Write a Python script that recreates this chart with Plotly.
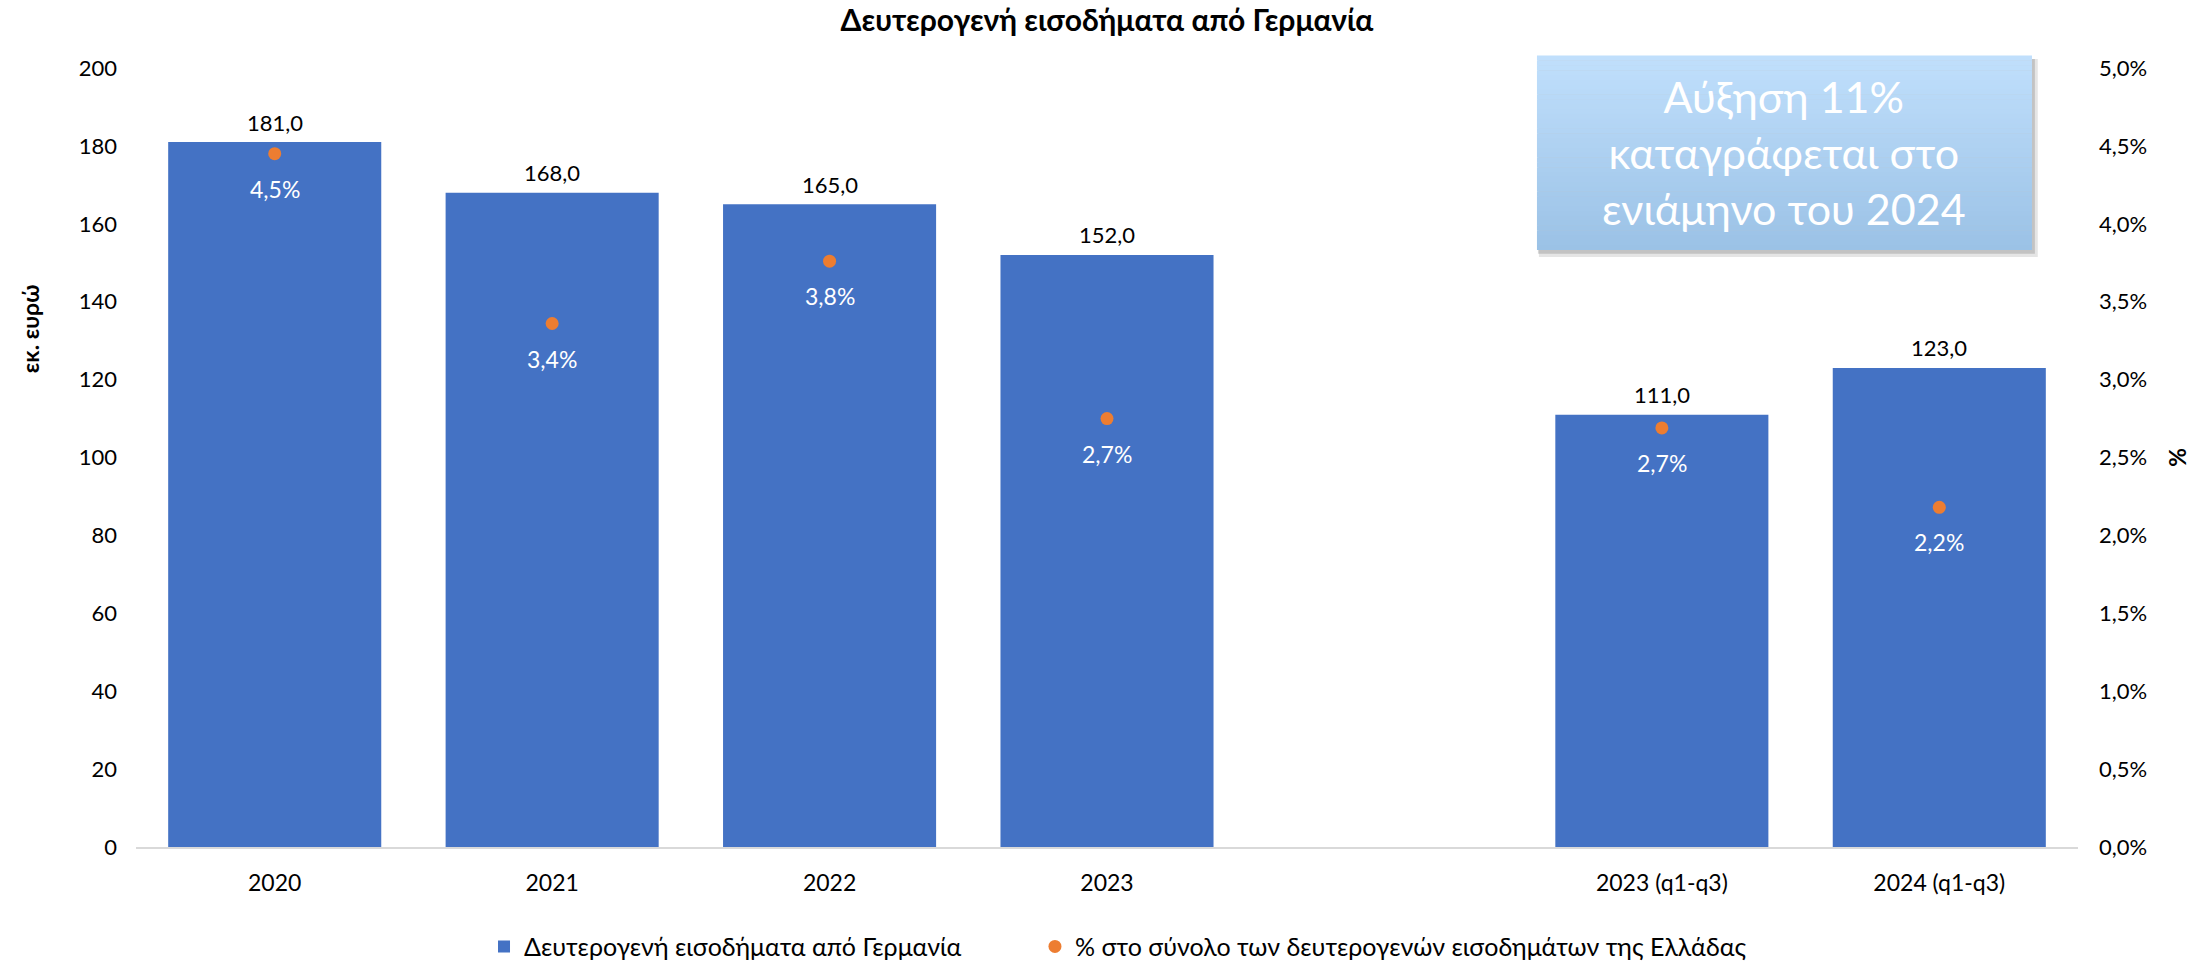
import plotly.graph_objects as go

categories = ["2020", "2021", "2022", "2023", " ", "2023 (q1-q3)", "2024 (q1-q3)"]
income = [181.0, 168.0, 165.0, 152.0, None, 111.0, 123.0]
share_pct = [4.45, 3.36, 3.76, 2.75, None, 2.69, 2.18]
share_labels = ["4,5%", "3,4%", "3,8%", "2,7%", "", "2,7%", "2,2%"]
income_labels = ["181,0", "168,0", "165,0", "152,0", "", "111,0", "123,0"]
left_ticks = list(range(0, 201, 20))
right_ticks = [i * 0.5 for i in range(11)]
right_ticktext = [("%.1f" % v).replace(".", ",") + "%" for v in right_ticks]

BLUE = "#4472C4"
ORANGE = "#ED7D31"
FONT = "Lato, Carlito, Calibri, sans-serif"

fig = go.Figure()
fig.add_trace(go.Bar(
    x=categories, y=income, name="Δευτερογενή εισοδήματα από Γερμανία",
    marker=dict(color=BLUE, line=dict(width=0)), legend="legend",
))
fig.add_trace(go.Scatter(
    x=categories, y=share_pct, name="% στο σύνολο των δευτερογενών εισοδημάτων της Ελλάδας",
    mode="markers", yaxis="y2", legend="legend2",
    marker=dict(color=ORANGE, size=13),
))

# data labels (x given as category index on the category axis)
for i, (v, t) in enumerate(zip(income, income_labels)):
    if v is None:
        continue
    fig.add_annotation(x=i, y=v, xref="x", yref="y", text=t, showarrow=False,
                       yanchor="middle", yshift=20,
                       font=dict(family=FONT, size=22, color="#000000"))
for i, (v, t) in enumerate(zip(share_pct, share_labels)):
    if v is None:
        continue
    fig.add_annotation(x=i, y=v, xref="x", yref="y2", text=t, showarrow=False,
                       yanchor="middle", yshift=-35,
                       font=dict(family=FONT, size=23, color="#FFFFFF"))

# annotation box with vertical gradient (styling strips)
x0, x1, y0, y1 = 0.7214, 0.9763, 0.7664, 1.0154
n = 40
top = (192, 223, 252)
bot = (155, 194, 230)
fig.add_shape(type="rect", xref="paper", yref="paper", x0=x0 + 0.001, x1=x1 + 0.003,
              y0=y0 - 0.009, y1=y1 - 0.004, fillcolor="rgba(0,0,0,0.10)", line=dict(width=0), layer="above")
fig.add_shape(type="rect", xref="paper", yref="paper", x0=x0 + 0.0005, x1=x1 + 0.0015,
              y0=y0 - 0.005, y1=y1 - 0.004, fillcolor="rgba(0,0,0,0.15)", line=dict(width=0), layer="above")
for k in range(n):
    t = k / (n - 1)
    c = tuple(round(top[j] + (bot[j] - top[j]) * t) for j in range(3))
    ya = y1 - (y1 - y0) * k / n
    yb = y1 - (y1 - y0) * (k + 1) / n
    fig.add_shape(type="rect", xref="paper", yref="paper", x0=x0, x1=x1, y0=yb, y1=ya + 0.0005,
                  fillcolor="rgb(%d,%d,%d)" % c, line=dict(width=0), layer="above")
fig.add_annotation(xref="paper", yref="paper", x=(x0 + x1) / 2, y=(y0 + y1) / 2,
                   text="Αύξηση 11%<br>καταγράφεται στο<br>ενιάμηνο του 2024",
                   showarrow=False, font=dict(family=FONT, size=43, color="#FFFFFF"),
                   xanchor="center", yanchor="middle")

# axis titles
fig.add_annotation(xref="paper", yref="paper", x=-0.0546, y=0.666, text="<b>εκ. ευρώ</b>",
                   textangle=-90, showarrow=False, xanchor="center", yanchor="middle",
                   font=dict(family=FONT, size=23, color="#000000"))
fig.add_annotation(xref="paper", yref="paper", x=1.0515, y=0.5006, text="<b>%</b>",
                   textangle=90, showarrow=False, xanchor="center", yanchor="middle",
                   font=dict(family=FONT, size=23, color="#000000"))

legend_common = dict(orientation="h", y=-0.128, yanchor="middle",
                     font=dict(family=FONT, size=25, color="#000000"), itemwidth=30,
                     bgcolor="rgba(0,0,0,0)")

fig.update_layout(
    width=2211, height=962,
    paper_bgcolor="white", plot_bgcolor="white",
    margin=dict(l=136, r=133, t=68, b=115, autoexpand=False),
    bargap=0.232,
    title=dict(text="<b>Δευτερογενή εισοδήματα από Γερμανία</b>", x=0.5, xanchor="center",
               xref="paper", y=0.979, yanchor="middle", automargin=False,
               font=dict(family=FONT, size=30, color="#000000")),
    xaxis=dict(type="category", categoryorder="array", categoryarray=categories,
               range=[-0.5, len(categories) - 0.5],
               showline=True, linecolor="#D9D9D9", linewidth=2, ticks="", automargin=False,
               tickfont=dict(family=FONT, size=23, color="#000000"), showgrid=False,
               ticklabelstandoff=14),
    yaxis=dict(range=[0, 200], tickvals=left_ticks, showgrid=False, zeroline=False, automargin=False,
               tickfont=dict(family=FONT, size=22, color="#000000"), ticklabelstandoff=18),
    yaxis2=dict(range=[0, 5], tickvals=right_ticks, ticktext=right_ticktext,
                overlaying="y", side="right", showgrid=False, zeroline=False, automargin=False,
                tickfont=dict(family=FONT, size=22, color="#000000"), ticklabelstandoff=20),
    legend=dict(x=0.1792, xanchor="left", **legend_common),
    legend2=dict(x=0.4629, xanchor="left", **legend_common),
    showlegend=True,
)
fig.write_html("out.html", config={"displayModeBar": False},
               post_script="document.body.style.margin='0';document.body.style.overflow='hidden';")
